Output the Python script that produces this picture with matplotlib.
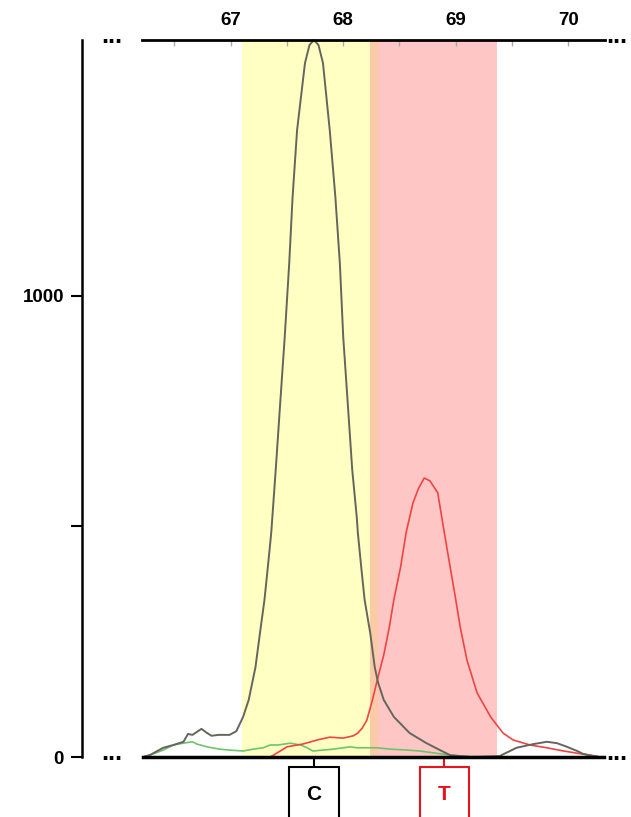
import matplotlib
matplotlib.use("Agg")
import matplotlib.pyplot as plt
from matplotlib.patches import Rectangle

plt.rcParams['font.family'] = ['Liberation Sans', 'DejaVu Sans']

# --- Data (base position, signal) ---

gray_pos = [66.22, 66.28, 66.40, 66.49, 66.58, 66.62, 66.66, 66.74, 66.79, 66.83, 66.89, 66.99,
            67.05, 67.11, 67.16, 67.22, 67.26, 67.30, 67.33, 67.36, 67.40, 67.44, 67.48, 67.52,
            67.55, 67.59, 67.66, 67.70, 67.74, 67.78, 67.82, 67.88, 67.93, 67.97, 68.00, 68.04,
            68.08, 68.12, 68.13, 68.16, 68.19, 68.24, 68.28, 68.31, 68.36, 68.45, 68.59, 68.74,
            68.86, 68.95, 69.13, 69.39, 69.54, 69.69, 69.81, 69.90, 69.99, 70.08, 70.13, 70.22,
            70.28]
gray_val = [0, 4, 20, 26, 33, 50, 48, 61, 52, 46, 48, 48,
            56, 87, 124, 195, 269, 341, 412, 486, 623, 768, 911, 1071,
            1215, 1360, 1505, 1544, 1555, 1544, 1505, 1360, 1215, 1071, 911, 768,
            623, 521, 486, 412, 341, 269, 195, 161, 124, 87, 52, 30,
            15, 4, 0, 2, 20, 28, 33, 30, 22, 13, 7, 2,
            0]

red_pos = [67.35, 67.38, 67.50, 67.59, 67.64, 67.77, 67.88, 68.00, 68.09, 68.13, 68.17, 68.21,
           68.26, 68.31, 68.36, 68.41, 68.45, 68.51, 68.56, 68.62, 68.67, 68.72, 68.77, 68.84,
           68.89, 68.94, 68.99, 69.04, 69.10, 69.19, 69.31, 69.42, 69.51, 69.66, 69.81, 69.96,
           70.11, 70.20, 70.28]
red_val = [0, 4, 22, 26, 28, 37, 43, 41, 46, 52, 63, 80,
           124, 174, 221, 282, 341, 412, 488, 551, 583, 605, 599, 573,
           499, 427, 356, 282, 210, 139, 87, 52, 37, 26, 20, 13,
           7, 4, 0]

green_pos = [66.22, 66.28, 66.40, 66.49, 66.58, 66.66, 66.70, 66.79, 66.90, 66.99, 67.11, 67.20,
             67.29, 67.35, 67.42, 67.53, 67.62, 67.68, 67.73, 67.82, 67.91, 68.00, 68.06, 68.12,
             68.18, 68.30, 68.42, 68.57, 68.68, 68.86, 69.04, 69.22, 70.28]
green_val = [0, 4, 15, 26, 30, 33, 28, 22, 17, 15, 13, 17,
             20, 26, 26, 30, 26, 20, 13, 15, 17, 20, 22, 20,
             20, 20, 17, 15, 13, 7, 2, 0, 0]

# highlighted bins
yellow_bin = (67.10, 68.24)
overlap_bin = (68.24, 68.31)
pink_bin = (68.31, 69.37)

# called bases
calls = ['C', 'T']
call_pos = [67.74, 68.90]
call_colors = ['black', '#e8141c']

x_ticks = [67, 68, 69, 70]
x_minor = [66.5, 67.5, 68.5, 69.5]
y_ticks = [0, 500, 1000]
y_labels = ['0', '', '1000']

# --- Figure ---

W, H = 631, 817
fig = plt.figure(figsize=(W / 100, H / 100), dpi=100)
ax = fig.add_axes([82 / W, 60 / H, (W - 82) / W, 717 / H])
ax.set_xlim(65.678, 70.558)
ax.set_ylim(0, 1555)

ax.axvspan(*yellow_bin, color='#ffffc4', lw=0, zorder=0)
ax.axvspan(*overlap_bin, color='#fbcba8', lw=0, zorder=0)
ax.axvspan(*pink_bin, color='#ffc6c6', lw=0, zorder=0)

ax.plot(green_pos, green_val, color='#6cc46c', lw=1.2, clip_on=False, zorder=2)
ax.plot(red_pos, red_val, color='#f04444', lw=1.2, clip_on=False, zorder=3)
ax.plot(gray_pos, gray_val, color='#65655d', lw=1.4, clip_on=False, zorder=4)

# spines
ax.spines['right'].set_visible(False)
ax.spines['left'].set_bounds(0, 1555)
ax.spines['left'].set_linewidth(1.8)
ax.spines['top'].set_bounds(66.21, 70.33)
ax.spines['top'].set_linewidth(2)
ax.spines['bottom'].set_bounds(66.22, 70.32)
ax.spines['bottom'].set_linewidth(2.5)
for s in ['top', 'bottom', 'left']:
    ax.spines[s].set_zorder(5)

ax.set_yticks(y_ticks)
ax.set_yticklabels(y_labels)
ax.tick_params(axis='y', direction='out', length=8, width=1.5, pad=5,
               labelsize=13.5)
for t in ax.get_yticklabels():
    t.set_fontweight('bold')

ax.xaxis.tick_top()
ax.set_xticks(x_ticks)
ax.set_xticks(x_minor, minor=True)
ax.set_xticklabels([str(v) for v in x_ticks])
ax.tick_params(axis='x', which='both', direction='in', length=4, width=1,
               color='#aaaaaa', pad=8, labelsize=13.5)
for t in ax.get_xticklabels():
    t.set_fontweight('bold')

# continuation dots
for xd in [65.94, 70.43]:
    for yd in [0, 1555]:
        ax.annotate('...', xy=(xd, yd), xytext=(0, -2), textcoords='offset points',
                    ha='center', va='baseline', fontsize=18, fontweight='bold',
                    annotation_clip=False)

# base call boxes
for base, xp, c in zip(calls, call_pos, call_colors):
    ax.plot([xp, xp], [0, -22], color=c, lw=1.5, clip_on=False, zorder=5)
    ax.add_patch(Rectangle((xp - 0.22, -160), 0.44, 138, fill=True, fc='white',
                           ec=c, lw=1.5, clip_on=False, zorder=5))
    ax.text(xp, -82, base, color=c, ha='center', va='center', fontsize=15,
            fontweight='bold', zorder=6)

fig.savefig('out.png', dpi=100)
